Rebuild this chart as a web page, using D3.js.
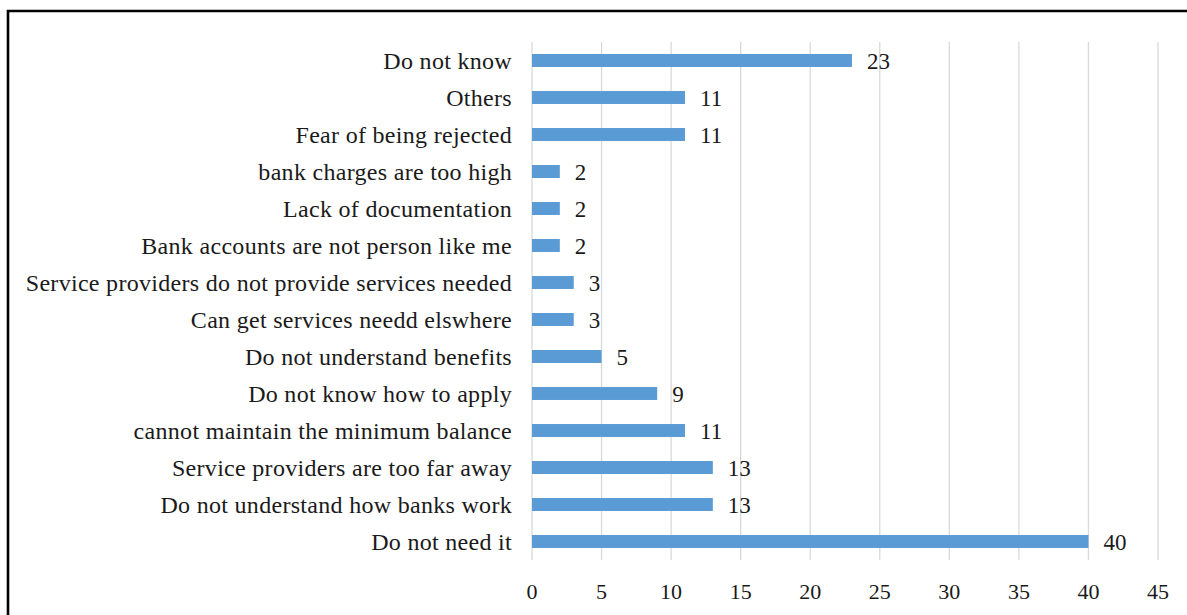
<!DOCTYPE html>
<html>
<head>
<meta charset="utf-8">
<script src="https://cdn.jsdelivr.net/npm/d3@7"></script>
<style>
  html, body { margin: 0; padding: 0; background: #fff; }
  svg { display: block; }
  text { font-family: "Liberation Serif", "Times New Roman", serif; fill: #1a1a1a; }
</style>
</head>
<body>
<svg id="chart" width="1187" height="615"></svg>
<script>
// Reasons for not having a bank account (number of respondents), top to bottom
const categories = [
  "Do not know",
  "Others",
  "Fear of being rejected",
  "bank charges are too high",
  "Lack of documentation",
  "Bank accounts are not person like me",
  "Service providers do not provide services needed",
  "Can get services needd elswhere",
  "Do not understand benefits",
  "Do not know how to apply",
  "cannot maintain the minimum balance",
  "Service providers are too far away",
  "Do not understand how banks work",
  "Do not need it"
];
const counts = [23, 11, 11, 2, 2, 2, 3, 3, 5, 9, 11, 13, 13, 40];
const xTicks = [0, 5, 10, 15, 20, 25, 30, 35, 40, 45];

const svg = d3.select("#chart");
const W = 1187, H = 615;
const plot = { left: 532, right: 1158, top: 42, bottom: 560 };

// Frame around the figure
svg.append("path")
  .attr("d", `M8,${H} L8,11 L${W},11`)
  .attr("fill", "none")
  .attr("stroke", "#000")
  .attr("stroke-width", 2.6);

const x = d3.scaleLinear().domain([0, 45]).range([plot.left, plot.right]);
const y = d3.scaleBand().domain(categories).range([plot.top, plot.bottom])
  .paddingInner(0.65).paddingOuter(0.325);

// Vertical gridlines
svg.append("g").selectAll("line").data(xTicks).join("line")
  .attr("x1", d => x(d)).attr("x2", d => x(d))
  .attr("y1", plot.top).attr("y2", plot.bottom)
  .attr("stroke", "#d9d9d9").attr("stroke-width", 1.3);

// Bars
svg.append("g").selectAll("rect").data(categories).join("rect")
  .attr("x", x(0))
  .attr("y", d => y(d))
  .attr("width", (d, i) => x(counts[i]) - x(0))
  .attr("height", y.bandwidth())
  .attr("fill", "#5b9bd5");

// Category labels
svg.append("g").selectAll("text").data(categories).join("text")
  .attr("x", 512)
  .attr("y", d => y(d) + y.bandwidth() / 2)
  .attr("dy", "0.35em")
  .attr("text-anchor", "end")
  .attr("font-size", 24)
  .attr("letter-spacing", "0.3px")
  .text(d => d);

// Value labels
svg.append("g").selectAll("text").data(categories).join("text")
  .attr("x", (d, i) => x(counts[i]) + 15)
  .attr("y", d => y(d) + y.bandwidth() / 2)
  .attr("dy", "0.35em")
  .attr("font-size", 23)
  .text((d, i) => counts[i]);

// X axis tick labels
svg.append("g").selectAll("text").data(xTicks).join("text")
  .attr("x", d => x(d))
  .attr("y", 591)
  .attr("dy", "0.36em")
  .attr("text-anchor", "middle")
  .attr("font-size", 22)
  .text(d => d);
</script>
</body>
</html>
